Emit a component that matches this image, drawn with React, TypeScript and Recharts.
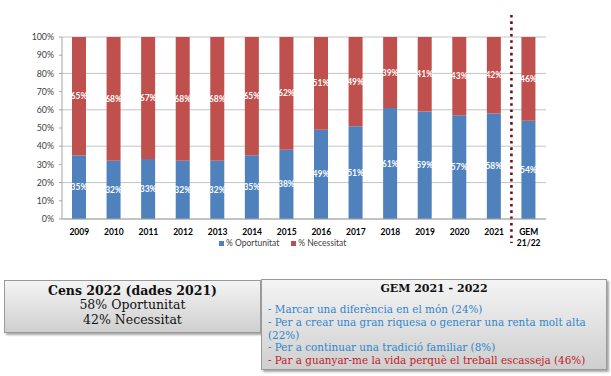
import {
  BarChart,
  Bar,
  XAxis,
  YAxis,
  CartesianGrid,
  Legend,
  LabelList,
  ReferenceLine,
} from "recharts";

const years = [
  "2009", "2010", "2011", "2012", "2013", "2014", "2015",
  "2016", "2017", "2018", "2019", "2020", "2021", "GEM 21/22",
];
const oportunitat = [35, 32, 33, 32, 32, 35, 38, 49, 51, 61, 59, 57, 58, 54];
const necessitat = [65, 68, 67, 68, 68, 65, 62, 51, 49, 39, 41, 43, 42, 46];
const yTicks = [0, 10, 20, 30, 40, 50, 60, 70, 80, 90, 100];
const seriesNames = ["% Oportunitat", "% Necessitat"];

const censLines = ["58% Oportunitat", "42% Necessitat"];
const gemLines = [
  { text: "- Marcar una diferència en el món (24%)", color: "#2f86cc" },
  { text: "- Per a crear una gran riquesa o generar una renta molt alta", color: "#2f86cc" },
  { text: "(22%)", color: "#2f86cc" },
  { text: "- Per a continuar una tradició familiar (8%)", color: "#2f86cc" },
  { text: "- Par a guanyar-me la vida perquè el treball escasseja (46%)", color: "#c0202a" },
];

const W = 611;
const MARGIN = { top: 37, right: 65, left: 0, bottom: 0 };
const Y_W = 62;
const PLOT_W = W - MARGIN.right - MARGIN.left - Y_W;

const chartData = years.map((y, i) => ({
  year: y,
  op: oportunitat[i],
  nec: necessitat[i],
}));

const font = "Lato, 'Liberation Sans', sans-serif";

function YearTick({ x, y, payload }: any) {
  const parts = payload.value === "GEM 21/22" ? ["GEM", "21/22"] : [payload.value];
  return (
    <text x={x} y={y} textAnchor="middle" fontSize={8.5} fontWeight="bold" fill="#000" fontFamily={font}>
      {parts.map((p: string, i: number) => (
        <tspan key={i} x={x} dy={i === 0 ? 8 : 11}>
          {p}
        </tspan>
      ))}
    </text>
  );
}

// dotted separator between 2021 and GEM, shifted half a band to the right
function Divider(props: any) {
  const band = PLOT_W / years.length;
  const x = props.x1 + band / 2;
  const top = Math.min(props.y1, props.y2);
  const bottom = Math.max(props.y1, props.y2);
  return (
    <line
      x1={x}
      x2={x}
      y1={top - 22}
      y2={bottom + 24}
      stroke="#6b1020"
      strokeWidth={2.6}
      strokeDasharray="2.6 3.7"
    />
  );
}

function LegendBox({ payload }: any) {
  const items = [...(payload || [])].sort(
    (a: any, b: any) => seriesNames.indexOf(a.value) - seriesNames.indexOf(b.value)
  );
  return (
    <div style={{ display: "flex", gap: 12, fontFamily: font, fontSize: 8.5, color: "#404040", height: 14, alignItems: "center" }}>
      {items.map((p: any) => (
        <span key={p.value} style={{ display: "flex", alignItems: "center", gap: 2 }}>
          <span style={{ width: 5, height: 5, background: p.color, display: "inline-block" }} />
          {p.value}
        </span>
      ))}
    </div>
  );
}

const boxStyle: any = {
  position: "absolute",
  boxSizing: "border-box",
  border: "1px solid #9a9a9a",
  background: "linear-gradient(#f4f4f4, #cfcfcf)",
  boxShadow: "2px 2px 2px rgba(0,0,0,0.35)",
  fontFamily: "'DejaVu Serif', serif",
};

export default function App() {
  return (
    <div style={{ position: "absolute", left: 0, top: 0, width: W, height: 376, background: "#fff" }}>
      <BarChart width={W} height={260} data={chartData} margin={MARGIN} barSize={14}>
        <CartesianGrid vertical={false} stroke="#c4c4c4" />
        <XAxis
          dataKey="year"
          height={27}
          tick={<YearTick />}
          tickLine={false}
          axisLine={{ stroke: "#a6a6a6" }}
          interval={0}
        />
        <YAxis
          width={Y_W}
          domain={[0, 100]}
          ticks={yTicks}
          tickFormatter={(v: number) => v + "%"}
          tick={{ fontSize: 8.8, fill: "#404040", fontFamily: font }}
          tickSize={3}
          tickMargin={5}
          tickLine={{ stroke: "#a6a6a6" }}
          axisLine={{ stroke: "#a6a6a6" }}
        />
        <Legend
          content={<LegendBox />}
          height={14}
          wrapperStyle={{ top: 236, left: 219, width: "auto", height: 14 }}
        />
        <Bar dataKey="op" name={seriesNames[0]} stackId="a" fill="#4f81bd" isAnimationActive={false}>
          <LabelList
            dataKey="op"
            position="center"
            formatter={(v: any) => v + "%"}
            fill="#fff"
            fontSize={8.5}
            fontWeight="bold"
            fontFamily={font}
          />
        </Bar>
        <Bar dataKey="nec" name={seriesNames[1]} stackId="a" fill="#c0504d" isAnimationActive={false}>
          <LabelList
            dataKey="nec"
            position="center"
            formatter={(v: any) => v + "%"}
            fill="#fff"
            fontSize={8.5}
            fontWeight="bold"
            fontFamily={font}
          />
        </Bar>
        <ReferenceLine x="2021" ifOverflow="visible" shape={<Divider />} />
      </BarChart>

      <div style={{ ...boxStyle, left: 4, top: 280, width: 257, height: 53, textAlign: "center", color: "#111", paddingTop: 2 }}>
        <div style={{ fontSize: 12.5, fontWeight: "bold", lineHeight: "15px" }}>Cens 2022 (dades 2021)</div>
        {censLines.map((l) => (
          <div key={l} style={{ fontSize: 12.5, lineHeight: "14.5px" }}>
            {l}
          </div>
        ))}
      </div>

      <div style={{ ...boxStyle, left: 261, top: 279, width: 346, height: 91, paddingLeft: 6, paddingTop: 1 }}>
        <div style={{ fontSize: 11, fontWeight: "bold", textAlign: "center", color: "#111", lineHeight: "15px", paddingRight: 6 }}>
          GEM 2021 - 2022
        </div>
        <div style={{ height: 7 }} />
        {gemLines.map((l) => (
          <div key={l.text} style={{ fontSize: 10.4, lineHeight: "12.8px", color: l.color, whiteSpace: "nowrap" }}>
            {l.text}
          </div>
        ))}
      </div>
    </div>
  );
}
